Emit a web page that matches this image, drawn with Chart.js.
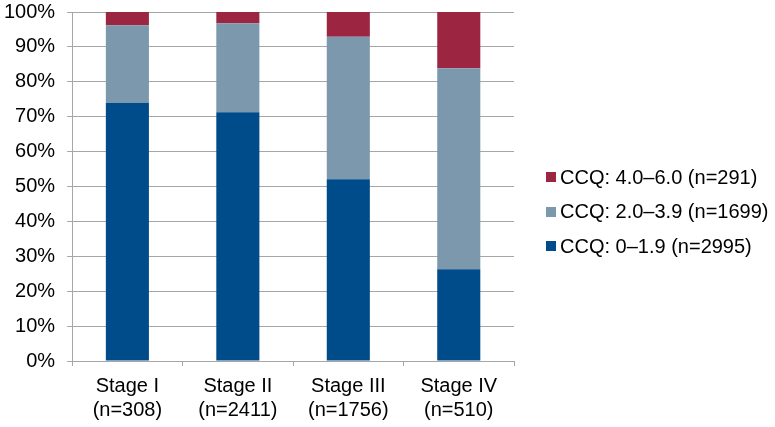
<!DOCTYPE html>
<html>
<head>
<meta charset="utf-8">
<script src="https://cdn.jsdelivr.net/npm/chart.js@4/dist/chart.umd.min.js"></script>
<style>
html,body{margin:0;padding:0;background:#fff;}
#wrap{position:relative;width:775px;height:427px;}
#legend{position:absolute;left:546px;top:165px;font-family:'Liberation Sans', Arial, Helvetica, sans-serif;font-size:20px;color:#000;}
#legend .item{display:flex;align-items:center;height:24px;margin-bottom:10.5px;white-space:nowrap;}
#legend .sw{width:10px;height:10px;margin-right:4px;flex:none;}
</style>
</head>
<body>
<div id="wrap"><canvas id="c" width="775" height="427"></canvas><div id="legend"></div></div>
<script>
const categories = [["Stage I","(n=308)"],["Stage II","(n=2411)"],["Stage III","(n=1756)"],["Stage IV","(n=510)"]];
const seriesNames = ["CCQ: 0\u20131.9 (n=2995)","CCQ: 2.0\u20133.9 (n=1699)","CCQ: 4.0\u20136.0 (n=291)"];
const low = [74.0, 71.3, 52.1, 26.3];
const mid = [22.2, 25.5, 40.8, 57.6];
const high = [3.8, 3.2, 7.1, 16.1];
const yTicks = [0,10,20,30,40,50,60,70,80,90,100];

const colors = ["#004B8A","#7B98AD","#9C2641"];
const font = {family:"'Liberation Sans', Arial, Helvetica, sans-serif", size:20};
Chart.defaults.font.family = font.family;
Chart.defaults.color = "#000";

const chart = new Chart(document.getElementById('c'), {
  type:'bar',
  data:{
    labels:categories,
    datasets:[
      {label:seriesNames[0], data:low, backgroundColor:colors[0]},
      {label:seriesNames[1], data:mid, backgroundColor:colors[1]},
      {label:seriesNames[2], data:high, backgroundColor:colors[2]}
    ]
  },
  options:{
    responsive:false,
    animation:false,
    devicePixelRatio:1,
    datasets:{bar:{barPercentage:0.39, categoryPercentage:1}},
    layout:{padding:{top:12,right:261,bottom:-3,left:-8}},
    plugins:{
      legend:{display:false},
      tooltip:{enabled:false}
    },
    scales:{
      x:{
        stacked:true,
        grid:{display:true, drawOnChartArea:false, drawTicks:true, tickLength:5, color:'#A6A6A6'},
        border:{display:true, color:'#A6A6A6'},
        ticks:{font:font, color:'#000', padding:8, maxRotation:0}
      },
      y:{
        stacked:true,
        min:0, max:100,
        afterBuildTicks:(s)=>{ s.ticks = yTicks.map(v=>({value:v})); },
        afterFit:(s)=>{ s.paddingTop = 0; s.paddingBottom = 0; },
        grid:{color:'#A6A6A6', tickLength:5},
        border:{display:true, color:'#A6A6A6'},
        ticks:{font:font, color:'#000', padding:12, callback:(v)=>v+'%'}
      }
    }
  }
});

// HTML legend built from the chart's datasets (reverse order like the reference)
const legend = document.getElementById('legend');
chart.data.datasets.slice().reverse().forEach(ds=>{
  const it = document.createElement('div'); it.className='item';
  const sw = document.createElement('span'); sw.className='sw'; sw.style.background = ds.backgroundColor;
  const tx = document.createElement('span'); tx.textContent = ds.label;
  it.appendChild(sw); it.appendChild(tx); legend.appendChild(it);
});
</script>
</body>
</html>
